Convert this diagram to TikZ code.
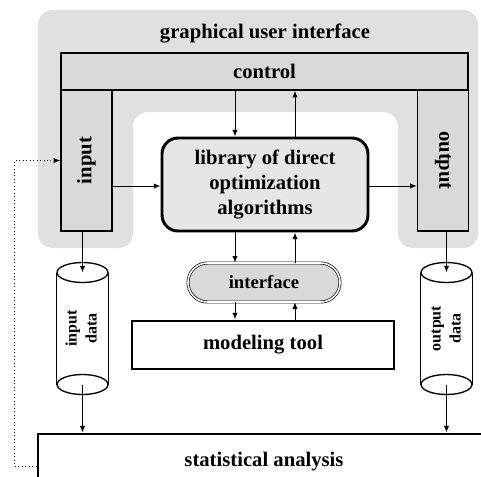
\documentclass[tikz,border=0pt]{standalone}
\usepackage{fontspec}
\setmainfont{Liberation Serif}
\usetikzlibrary{shapes.misc,arrows.meta}
\definecolor{guigray}{HTML}{E0E0E0}
\definecolor{boxgray}{HTML}{D9D9D9}
\definecolor{libgray}{HTML}{E6E6E6}

\tikzset{every picture/.style={line width=0.75pt}}

\begin{document}
\begin{tikzpicture}[x=0.75pt,y=0.75pt,yscale=-1,xscale=1,
	bigtext/.style={font=\fontsize{15.5}{19}\selectfont\bfseries},
	box/.style={draw, fill=boxgray, line width=1.1pt, inner sep=0pt, bigtext},
	thickbox/.style={draw, fill=white, line width=2.2pt, inner sep=0pt, bigtext},
	cylbody/.style={minimum width=38.25pt, minimum height=83.25pt, inner sep=0pt, font=\fontsize{12}{15}\selectfont\bfseries},
	cylline/.style={line width=1pt},
	arr/.style={-{Latex[length=5pt,width=4pt]}},
	feedback/.style={dotted, line width=0.6pt, -{Latex[length=5pt,width=4pt]}}]
	\useasboundingbox (0,0) rectangle (481,476);

	%Shape: GUI background [id:gui]
	\fill [guigray, rounded corners=11pt] (38,248) -- (38,10) -- (478,10) -- (478,248) -- (398,248) -- (398,112) -- (133,112) -- (133,248) -- cycle ;

	%positions of the vertical and horizontal connectors
	\coordinate (xa) at (235,0) ;
	\coordinate (xb) at (295,0) ;
	\coordinate (ya) at (0,186) ;

	% Text Node
	\draw (265,33) node [bigtext] (gui) {graphical user interface};
	%Shape: Rectangle [id:control]
	\draw (264.5,71.5) node [box, minimum width=305.25pt, minimum height=27.75pt] (control) {control};
	%Shape: Rectangle [id:input]
	\draw (86.5,160.5) node [box, minimum width=38.25pt, minimum height=105.75pt] (input) {\rotatebox{90}{input}};
	%Shape: Rectangle [id:output]
	\draw (443,160.5) node [box, minimum width=38.25pt, minimum height=105.75pt] (output) {\rotatebox{-90}{output}};
	%Rounded Rect [id:lib]
	\draw (265,184.5) node [box, fill=libgray, line width=2.2pt, rounded corners=12pt, minimum width=154.5pt, minimum height=69.75pt, align=center] (lib) {library of direct\\optimization\\algorithms};
	%Shape: Pill [id:interface]
	\draw (264,282.5) node [rounded rectangle, draw, fill=boxgray, double, double distance=1.2pt, line width=0.5pt, inner sep=0pt, minimum width=114pt, minimum height=29.25pt, font=\fontsize{14}{17}\selectfont\bfseries] (interface) {interface};
	%Shape: Rectangle [id:modeling]
	\draw (263,345) node [thickbox, minimum width=196.5pt, minimum height=36pt] (modeling) {modeling tool};
	%Shape: Rectangle [id:stat]
	\draw (264,462) node [thickbox, minimum width=339pt, minimum height=42pt] (stat) {statistical analysis};

	%Shape: Cylinder [id:indata]
	\draw (82.5,328.5) node [cylbody] (indata) {\rotatebox{90}{\begin{tabular}{@{}c@{}}input\\data\end{tabular}}};
	\draw [cylline] (indata.north west) -- (indata.south west) (indata.north east) -- (indata.south east) ;
	\draw [cylline] (indata.north) ellipse [x radius=19.1pt, y radius=7.5pt] ;
	\draw [cylline] (indata.south) ellipse [x radius=19.1pt, y radius=7.5pt] ;
	%Shape: Cylinder [id:outdata]
	\draw (446.5,328.5) node [cylbody] (outdata) {\rotatebox{90}{\begin{tabular}{@{}c@{}}output\\data\end{tabular}}};
	\draw [cylline] (outdata.north west) -- (outdata.south west) (outdata.north east) -- (outdata.south east) ;
	\draw [cylline] (outdata.north) ellipse [x radius=19.1pt, y radius=7.5pt] ;
	\draw [cylline] (outdata.south) ellipse [x radius=19.1pt, y radius=7.5pt] ;

	%Straight Lines [id:arrows]
	\draw [arr] (control.south -| xa) -- (lib.north -| xa) ;
	\draw [arr] (lib.north -| xb) -- (control.south -| xb) ;
	\draw [arr] (lib.south -| xa) -- (interface.north -| xa) ;
	\draw [arr] (interface.north -| xb) -- (lib.south -| xb) ;
	\draw [arr] (interface.south -| xa) -- (modeling.north -| xa) ;
	\draw [arr] (modeling.north -| xb) -- (interface.south -| xb) ;
	\draw [arr] (input.east |- ya) -- (lib.west |- ya) ;
	\draw [arr] (lib.east |- ya) -- (output.west |- ya) ;
	\draw [arr] (input.south -| indata) -- (indata.north) ;
	\draw [arr] (indata.south) -- (stat.north -| indata) ;
	\draw [arr] (output.south -| outdata) -- (outdata.north) ;
	\draw [arr] (outdata.south) -- (stat.north -| outdata) ;
	%Dotted feedback line
	\draw [feedback] ([yshift=3pt]stat.west) -| ([xshift=-34.5pt]input.west) -- (input.west) ;

\end{tikzpicture}
\end{document}
